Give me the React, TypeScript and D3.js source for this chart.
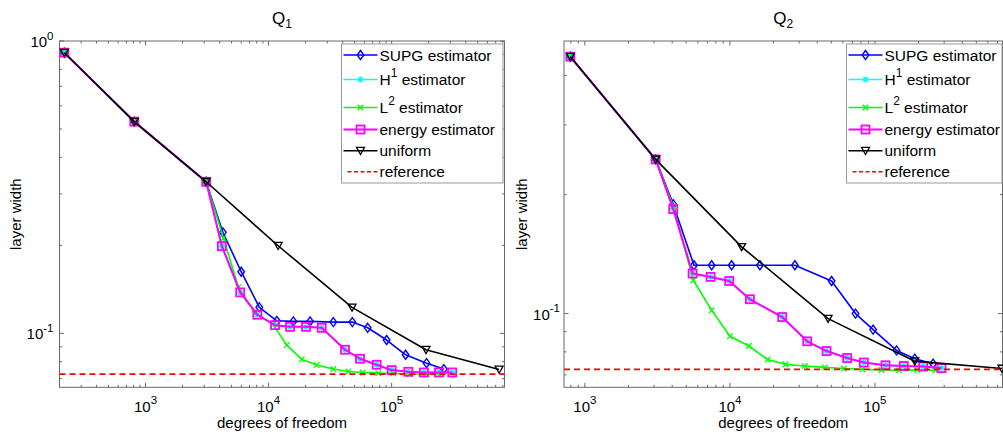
import React from 'react';
import * as d3 from 'd3';

// ---------------- data ----------------
const q1UniformDof = [219, 810, 3110, 11950, 47650, 190100, 747000];
const q1UniformWidth = [0.912, 0.53, 0.33, 0.1994, 0.1227, 0.0879, 0.0753];

const q1SupgDof = [219, 810, 3110, 4250, 5990, 8410, 11670, 15900, 21720, 33570, 47900, 63850, 91000, 129800, 192200, 265500];
const q1SupgWidth = [0.912, 0.53, 0.33, 0.2216, 0.1625, 0.1228, 0.1104, 0.1099, 0.1099, 0.1093, 0.1093, 0.1045, 0.0949, 0.0845, 0.0791, 0.0755];

const q1H1Dof = [219, 810, 3110, 4170, 5880, 8110, 11290, 14940, 20150, 27030, 41800, 55300, 75500, 100000, 136500, 182900, 242200, 310500];
const q1H1Width = [0.912, 0.53, 0.33, 0.1989, 0.1381, 0.1158, 0.1067, 0.1053, 0.1053, 0.1045, 0.0879, 0.0819, 0.0781, 0.0749, 0.0739, 0.0735, 0.0735, 0.0735];

const q1L2Dof = [219, 810, 3110, 4300, 5690, 7760, 10820, 14060, 18600, 24600, 33600, 44500, 58200, 77900, 103000, 140800, 192400, 254700];
const q1L2Width = [0.912, 0.53, 0.33, 0.2114, 0.1437, 0.1171, 0.1076, 0.0912, 0.0815, 0.0779, 0.0755, 0.0741, 0.0735, 0.0731, 0.073, 0.0726, 0.0725, 0.0728];

const q1EnergyDof = [219, 810, 3110, 4170, 5880, 8110, 11290, 14940, 20150, 27030, 41800, 55300, 75500, 100000, 136500, 182900, 242200, 310500];
const q1EnergyWidth = [0.912, 0.53, 0.33, 0.1989, 0.1381, 0.1158, 0.1067, 0.1053, 0.1053, 0.1045, 0.0879, 0.0819, 0.0781, 0.0749, 0.0739, 0.0735, 0.0735, 0.0735];

const q1Reference = 0.0726;

const q2UniformDof = [794, 3076, 12040, 47500, 188200, 750000];
const q2UniformWidth = [0.4463, 0.2454, 0.1475, 0.0971, 0.0758, 0.0726];

const q2SupgDof = [794, 3076, 4065, 5650, 7480, 10270, 16100, 28050, 50200, 73400, 97100, 140800, 188200, 251600];
const q2SupgWidth = [0.4463, 0.2454, 0.1891, 0.1325, 0.1325, 0.1325, 0.1325, 0.1325, 0.1209, 0.1, 0.0911, 0.0807, 0.0769, 0.0747];

const q2H1Dof = [794, 3076, 4065, 5530, 7360, 9890, 13730, 22930, 34090, 46370, 64300, 83800, 118200, 158000, 214700, 287400];
const q2H1Width = [0.4463, 0.2454, 0.1837, 0.1263, 0.1238, 0.1209, 0.1087, 0.098, 0.0851, 0.0804, 0.0772, 0.0752, 0.074, 0.0737, 0.0735, 0.0728];

const q2L2Dof = [794, 3076, 4065, 5590, 7490, 10000, 13520, 18200, 24200, 32860, 45130, 61000, 82000, 111000, 146600, 196400, 262500];
const q2L2Width = [0.4463, 0.2454, 0.1869, 0.1214, 0.1019, 0.0876, 0.0828, 0.0765, 0.0744, 0.0737, 0.0731, 0.0726, 0.0723, 0.072, 0.0719, 0.072, 0.0719];

const q2EnergyDof = [794, 3076, 4065, 5530, 7360, 9890, 13730, 22930, 34090, 46370, 64300, 83800, 118200, 158000, 214700, 287400];
const q2EnergyWidth = [0.4463, 0.2454, 0.1837, 0.1263, 0.1238, 0.1209, 0.1087, 0.098, 0.0851, 0.0804, 0.0772, 0.0752, 0.074, 0.0737, 0.0735, 0.0728];

const q2Reference = 0.0723;

const q1XDomain = [200, 826000];
const q1YDomain = [0.0654, 1.0];
const q2XDomain = [718, 757000];
const q2YDomain = [0.0651, 0.489];

// legend label segments: [before, superscript, after]
const legendLabels = [
  ['SUPG estimator', '', ''],
  ['H', '1', ' estimator'],
  ['L', '2', ' estimator'],
  ['energy estimator', '', ''],
  ['uniform', '', ''],
  ['reference', '', ''],
];
const titles = [['Q', '1'], ['Q', '2']];
const xLabel = 'degrees of freedom';
const yLabel = 'layer width';

// ---------------- styling ----------------
const FONT = "'Liberation Sans', Arial, Helvetica, sans-serif";
const AXIS_COLOR = '#6a6a6a';
const seriesStyle = [
  { color: '#0000ff', marker: 'diamond', width: 1.6 },
  { color: '#00ffff', marker: 'star', width: 1.6 },
  { color: '#00ff00', marker: 'x', width: 1.6 },
  { color: '#ff00ff', marker: 'square', width: 2 },
  { color: '#000000', marker: 'tri', width: 1.6 },
];

function Marker({ type, x, y, color }: { type: string; x: number; y: number; color: string }) {
  if (type === 'diamond')
    return <path d={`M${x},${y - 4.5}L${x + 3.3},${y}L${x},${y + 4.5}L${x - 3.3},${y}Z`} fill="none" stroke={color} strokeWidth={1.4} />;
  if (type === 'star') {
    const r = 3, q = 2.2;
    return (
      <path d={`M${x - r},${y}H${x + r}M${x},${y - r}V${y + r}M${x - q},${y - q}L${x + q},${y + q}M${x - q},${y + q}L${x + q},${y - q}`} stroke={color} strokeWidth={1.4} />
    );
  }
  if (type === 'x') {
    const r = 2.8;
    return <path d={`M${x - r},${y - r}L${x + r},${y + r}M${x - r},${y + r}L${x + r},${y - r}`} stroke={color} strokeWidth={1.3} />;
  }
  if (type === 'square') return <rect x={x - 4} y={y - 4} width={8} height={8} fill="none" stroke={color} strokeWidth={1.8} />;
  if (type === 'tri')
    return <path d={`M${x - 4},${y - 3.3}L${x + 4},${y - 3.3}L${x},${y + 3.8}Z`} fill="none" stroke={color} strokeWidth={1.3} />;
  return null;
}

function logTicks(domain: number[]) {
  const [a, b] = domain;
  const res: { v: number; major: boolean; e: number }[] = [];
  for (let e = Math.floor(Math.log10(a)); e <= Math.ceil(Math.log10(b)); e++) {
    for (let k = 1; k <= 9; k++) {
      const v = k * Math.pow(10, e);
      if (v >= a * 0.9999 && v <= b * 1.0001) res.push({ v, major: k === 1, e });
    }
  }
  return res;
}

type PanelProps = {
  title: string[];
  xDomain: number[];
  yDomain: number[];
  xRange: number[];
  yRange: number[];
  data: { dof: number[]; width: number[] }[];
  reference: number;
  legendX: number;
  legendW: number;
  yLabelX: number;
  yTickLabelGap: number;
};

function Panel(p: PanelProps) {
  const xs = d3.scaleLog().domain(p.xDomain).range(p.xRange);
  const ys = d3.scaleLog().domain(p.yDomain).range(p.yRange);
  const [x0, x1] = p.xRange;
  const [y1, y0] = p.yRange; // y0 top, y1 bottom
  const line = d3
    .line<[number, number]>()
    .x((d) => xs(d[0]))
    .y((d) => ys(d[1]));
  const xt = logTicks(p.xDomain);
  const yt = logTicks(p.yDomain);
  const MAJ = 4.5, MIN = 2.5;
  const legendTop = 44;
  const legendH = 139;
  const rowOffsets = [11, 35.5, 63.5, 85.5, 106.7, 127.7];
  const cx = (x0 + x1) / 2;
  const cy = (y0 + y1) / 2;

  return (
    <g fontFamily={FONT}>
      {/* axis box */}
      <rect x={x0} y={y0} width={x1 - x0} height={y1 - y0} fill="white" stroke={AXIS_COLOR} strokeWidth={1} />
      {/* x ticks */}
      {xt.map((t, i) => {
        const x = xs(t.v);
        const L = t.major ? MAJ : MIN;
        return (
          <g key={'xt' + i} stroke={AXIS_COLOR} strokeWidth={1}>
            <line x1={x} x2={x} y1={y1} y2={y1 - L} />
            <line x1={x} x2={x} y1={y0} y2={y0 + L} />
          </g>
        );
      })}
      {xt
        .filter((t) => t.major)
        .map((t, i) => (
          <text key={'xl' + i} x={xs(t.v)} y={411.5} textAnchor="middle" fontSize={15} fill="#000">
            <tspan>10</tspan>
            <tspan dy={-7.5} fontSize={11.5}>{String(t.e)}</tspan>
          </text>
        ))}
      {/* y ticks */}
      {yt.map((t, i) => {
        const y = ys(t.v);
        const L = t.major ? MAJ : MIN;
        return (
          <g key={'yt' + i} stroke={AXIS_COLOR} strokeWidth={1}>
            <line x1={x0} x2={x0 + L} y1={y} y2={y} />
            <line x1={x1} x2={x1 - L} y1={y} y2={y} />
          </g>
        );
      })}
      {yt
        .filter((t) => t.major)
        .map((t, i) => (
          <text key={'yl' + i} x={x0 - p.yTickLabelGap} y={ys(t.v) + 6} textAnchor="end" fontSize={15} fill="#000">
            <tspan>10</tspan>
            <tspan dy={-7.5} fontSize={11.5}>{String(t.e)}</tspan>
          </text>
        ))}
      {/* series */}
      {p.data.map((s, si) => {
        const st = seriesStyle[si];
        const pts = s.dof.map((d, i) => [d, s.width[i]] as [number, number]);
        return (
          <g key={'s' + si}>
            <path d={line(pts) || ''} fill="none" stroke={st.color} strokeWidth={st.width} strokeLinejoin="round" />
            {pts.map((pt, i) => (
              <Marker key={i} type={st.marker} x={xs(pt[0])} y={ys(pt[1])} color={st.color} />
            ))}
          </g>
        );
      })}
      {/* reference */}
      <line x1={x0} x2={x1} y1={ys(p.reference)} y2={ys(p.reference)} stroke="#ff0000" strokeWidth={1.7} strokeDasharray="6,4" />
      {/* labels */}
      <text x={cx} y={428} textAnchor="middle" fontSize={15} fill="#000">{xLabel}</text>
      <text transform={`translate(${p.yLabelX},${cy}) rotate(-90)`} textAnchor="middle" fontSize={15} fill="#000">{yLabel}</text>
      <text x={cx} y={24} textAnchor="middle" fontSize={17} fill="#000">
        <tspan>{p.title[0]}</tspan>
        <tspan dy={4} fontSize={12}>{p.title[1]}</tspan>
      </text>
      {/* legend */}
      <g>
        <rect x={p.legendX} y={legendTop} width={p.legendW} height={legendH} fill="white" stroke="#999" strokeWidth={1} />
        {legendLabels.map((lab, i) => {
          const y = legendTop + rowOffsets[i];
          const lx0 = p.legendX + 2, lx1 = p.legendX + 36, lmx = (lx0 + lx1) / 2;
          const isRef = i === 5;
          const st = isRef ? null : seriesStyle[i];
          return (
            <g key={'lg' + i}>
              {isRef ? (
                <line x1={lx0 + 4} x2={lx1} y1={y} y2={y} stroke="#ff0000" strokeWidth={1.5} strokeDasharray="4,2.5" />
              ) : (
                <>
                  <line x1={lx0} x2={lx1} y1={y} y2={y} stroke={st!.color} strokeWidth={st!.width} />
                  <Marker type={st!.marker} x={lmx} y={y} color={st!.color} />
                </>
              )}
              <text x={p.legendX + 38} y={y + 5.5} fontSize={15.5} fill="#000">
                <tspan>{lab[0]}</tspan>
                {lab[1] ? (
                  <>
                    <tspan dy={-8.5} fontSize={12}>{lab[1]}</tspan>
                    <tspan dy={8.5}>{lab[2]}</tspan>
                  </>
                ) : null}
              </text>
            </g>
          );
        })}
      </g>
    </g>
  );
}

export default function App() {
  const q1Data = [
    { dof: q1SupgDof, width: q1SupgWidth },
    { dof: q1H1Dof, width: q1H1Width },
    { dof: q1L2Dof, width: q1L2Width },
    { dof: q1EnergyDof, width: q1EnergyWidth },
    { dof: q1UniformDof, width: q1UniformWidth },
  ];
  const q2Data = [
    { dof: q2SupgDof, width: q2SupgWidth },
    { dof: q2H1Dof, width: q2H1Width },
    { dof: q2L2Dof, width: q2L2Width },
    { dof: q2EnergyDof, width: q2EnergyWidth },
    { dof: q2UniformDof, width: q2UniformWidth },
  ];
  return (
    <svg width={1003} height={435} style={{ position: 'absolute', left: 0, top: 0, background: 'white' }}>
      <rect x={0} y={0} width={1003} height={435} fill="white" />
      <Panel
        title={titles[0]}
        xDomain={q1XDomain}
        yDomain={q1YDomain}
        xRange={[59.5, 504.5]}
        yRange={[387.3, 41]}
        data={q1Data}
        reference={q1Reference}
        legendX={341.5}
        legendW={161.5}
        yLabelX={20.5}
        yTickLabelGap={6}
      />
      <Panel
        title={titles[1]}
        xDomain={q2XDomain}
        yDomain={q2YDomain}
        xRange={[564, 1002.5]}
        yRange={[387.3, 41]}
        data={q2Data}
        reference={q2Reference}
        legendX={846.5}
        legendW={155.5}
        yLabelX={527}
        yTickLabelGap={4}
      />
    </svg>
  );
}
